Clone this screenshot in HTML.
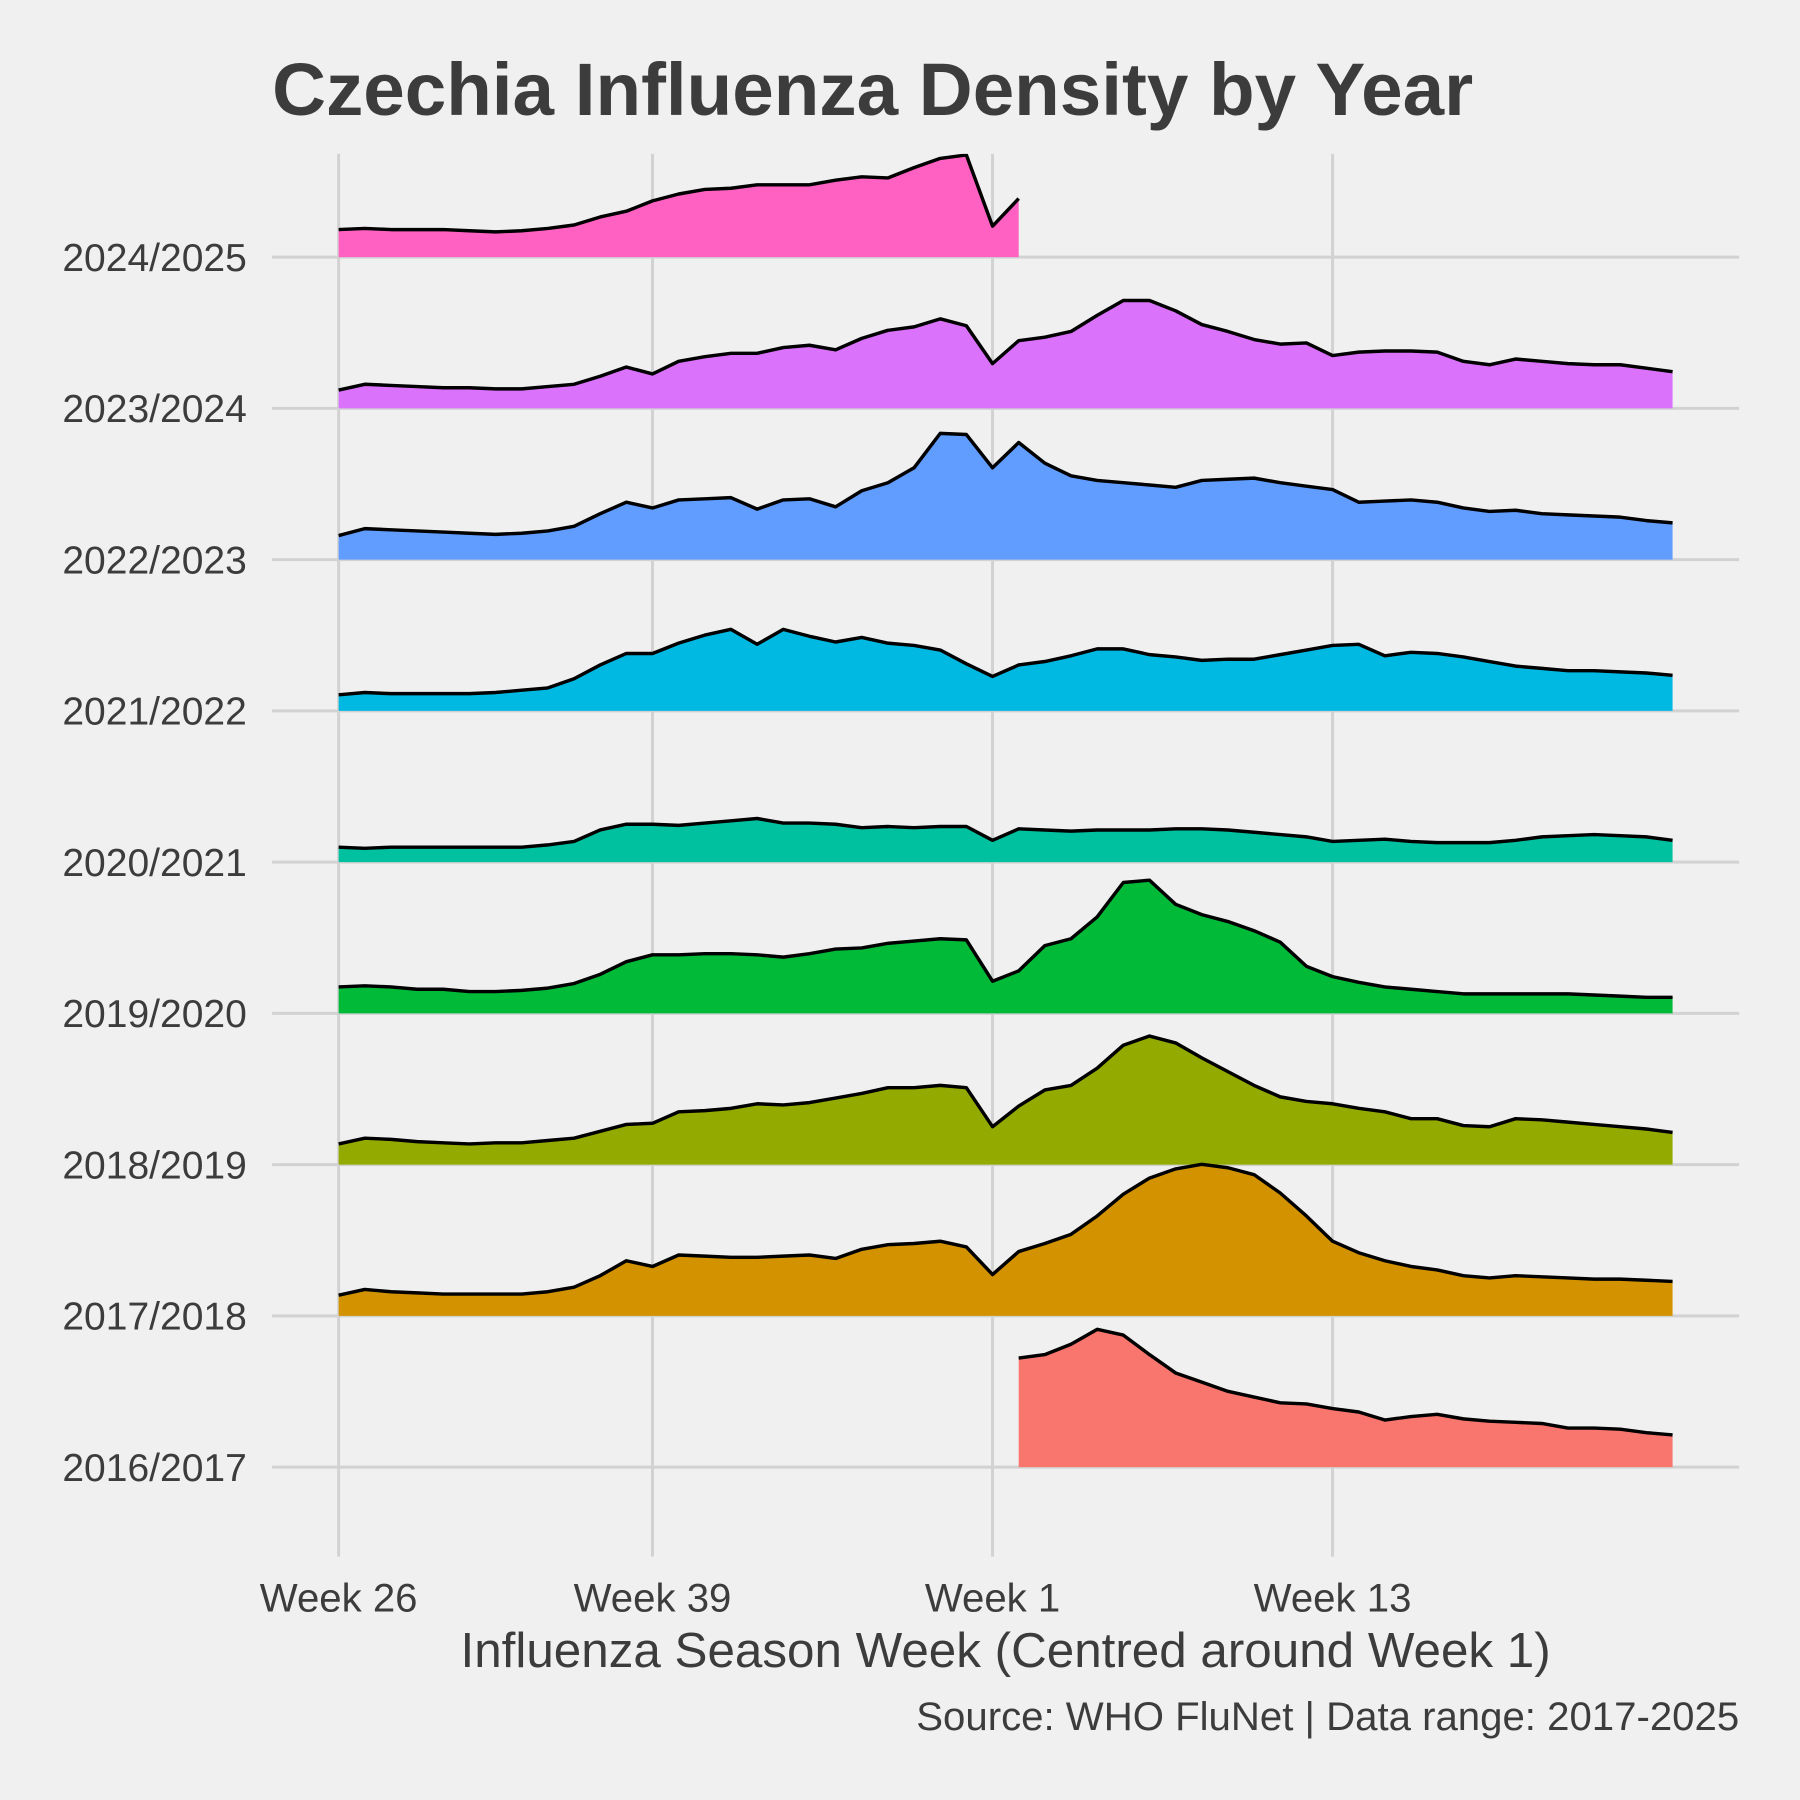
<!DOCTYPE html>
<html><head><meta charset="utf-8"><style>
html,body{margin:0;padding:0;background:#f0f0f0;}
svg{display:block;font-family:"Liberation Sans",Arial,sans-serif;}
</style></head><body>
<svg id="chart" width="1800" height="1800" viewBox="0 0 1568 1568" xmlns="http://www.w3.org/2000/svg">
<rect width="1568" height="1568" fill="#f0f0f0"/>
<text x="237" y="100" font-size="65" font-weight="bold" fill="#3c3c3c">Czechia Influenza Density by Year</text>
<g id="grid"></g>
<defs><clipPath id="pc"><rect x="230" y="134" width="1300" height="1230"/></clipPath></defs>
<g id="ridges" clip-path="url(#pc)"></g>
<g id="labels"></g>
<text x="876" y="1452" font-size="43" fill="#3c3c3c" text-anchor="middle">Influenza Season Week (Centred around Week 1)</text>
<text x="1515" y="1507" font-size="35" fill="#3c3c3c" text-anchor="end">Source: WHO FluNet | Data range: 2017-2025</text>
</svg>
<script>
const seasons = ["2016/2017","2017/2018","2018/2019","2019/2020","2020/2021","2021/2022","2022/2023","2023/2024","2024/2025"];
const colors = ["#F8766D","#D39200","#93AA00","#00BA38","#00C19F","#00B9E3","#619CFF","#DB72FB","#FF61C3"];
const xTickLabels = ["Week 26","Week 39","Week 1","Week 13"];
const xTickIndex = [0,12,25,38];
const s2016 = [null,null,null,null,null,null,null,null,null,null,null,null,null,null,null,null,null,null,null,null,null,null,null,null,null,null,95,98,107,120,115,98,82,74,66,61,56,55,51,48,41,44,46,42,40,39,38,34,34,33,30,28];
const s2017 = [18,23,21,20,19,19,19,19,21,25,35,48,43,53,52,51,51,52,53,50,58,62,63,65,60,36,56,63,71,87,106,120,128,132,129,123,107,87,65,55,48,43,40,35,33,35,34,33,32,32,31,30];
const s2018 = [18,23,22,20,19,18,19,19,21,23,29,35,36,46,47,49,53,52,54,58,62,67,67,69,67,33,51,65,69,84,104,112,106,93,81,69,59,55,53,49,46,40,40,34,33,40,39,37,35,33,31,28];
const s2019 = [23,24,23,21,21,19,19,20,22,26,34,45,51,51,52,52,51,49,52,56,57,61,63,65,64,28,37,59,65,84,114,116,95,86,80,72,62,41,32,27,23,21,19,17,17,17,17,17,16,15,14,14];
const s2020 = [13,12,13,13,13,13,13,13,15,18,28,33,33,32,34,36,38,34,34,33,30,31,30,31,31,19,29,28,27,28,28,28,29,29,28,26,24,22,18,19,20,18,17,17,17,19,22,23,24,23,22,19];
const s2021 = [14,16,15,15,15,15,16,18,20,28,40,50,50,59,66,71,58,71,65,60,64,59,57,53,41,30,40,43,48,54,54,49,47,44,45,45,49,53,57,58,48,51,50,47,43,39,37,35,35,34,33,31];
const s2022 = [21,27,26,25,24,23,22,23,25,29,40,50,45,52,53,54,44,52,53,46,60,67,80,110,109,80,102,84,73,69,67,65,63,69,70,71,67,64,61,50,51,52,50,45,42,43,40,39,38,37,34,32];
const s2023 = [16,21,20,19,18,18,17,17,19,21,28,36,30,41,45,48,48,53,55,51,61,68,71,78,72,39,59,62,67,81,94,94,85,73,67,60,56,57,46,49,50,50,49,41,38,43,41,39,38,38,35,32];
const s2024 = [24,25,24,24,24,23,22,23,25,28,35,40,49,55,59,60,63,63,63,67,70,69,78,86,89,27,51];
const series = [s2016,s2017,s2018,s2019,s2020,s2021,s2022,s2023,s2024];

const NS="http://www.w3.org/2000/svg";
const x0=295, step=(1457-295)/51;
function xS(i){return x0+i*step;}
function baseY(k){return 1278-k*(1278-224)/8;}
function yS(k,v){return baseY(k)-v;}
function mk(tag,attrs,parent){const e=document.createElementNS(NS,tag);for(const a in attrs)e.setAttribute(a,attrs[a]);parent.appendChild(e);return e;}
const grid=document.getElementById('grid'), ridges=document.getElementById('ridges'), labels=document.getElementById('labels');
xTickIndex.forEach((ti,j)=>{
  const l=mk('line',{x1:xS(ti),x2:xS(ti),y1:134,y2:1356,stroke:'#d2d2d2','stroke-width':2.6},grid);
  
  
  const t=mk('text',{x:xS(ti),y:1404,'font-size':35,fill:'#3c3c3c','text-anchor':'middle'},labels);
  t.textContent=xTickLabels[j];
  
  
});
seasons.forEach((s,k)=>{
  const l=mk('line',{x1:237,x2:1515,y1:baseY(k),y2:baseY(k),stroke:'#d2d2d2','stroke-width':2.6},grid);
  
  
  const t=mk('text',{x:215,y:baseY(k)+12,'font-size':34,fill:'#3c3c3c','text-anchor':'end'},labels);
  t.textContent=s;
  
  
});
for(let k=series.length-1;k>=0;k--){
  const d=series[k]; const pts=[];
  d.forEach((v,i)=>{if(v!==null)pts.push([xS(i),yS(k,v)]);});
  if(!pts.length)continue;
  const b=baseY(k);
  const area='M'+pts[0][0]+','+b+' '+pts.map(p=>'L'+p[0]+','+p[1]).join(' ')+' L'+pts[pts.length-1][0]+','+b+'Z';
  const a=mk('path',{d:area,fill:colors[k]},ridges);
  
  
  const ln=mk('path',{d:'M'+pts.map(p=>p[0]+','+p[1]).join(' L'),fill:'none',stroke:'#000','stroke-width':3,'stroke-linejoin':'round'},ridges);
  
  
}
</script>
</body></html>
